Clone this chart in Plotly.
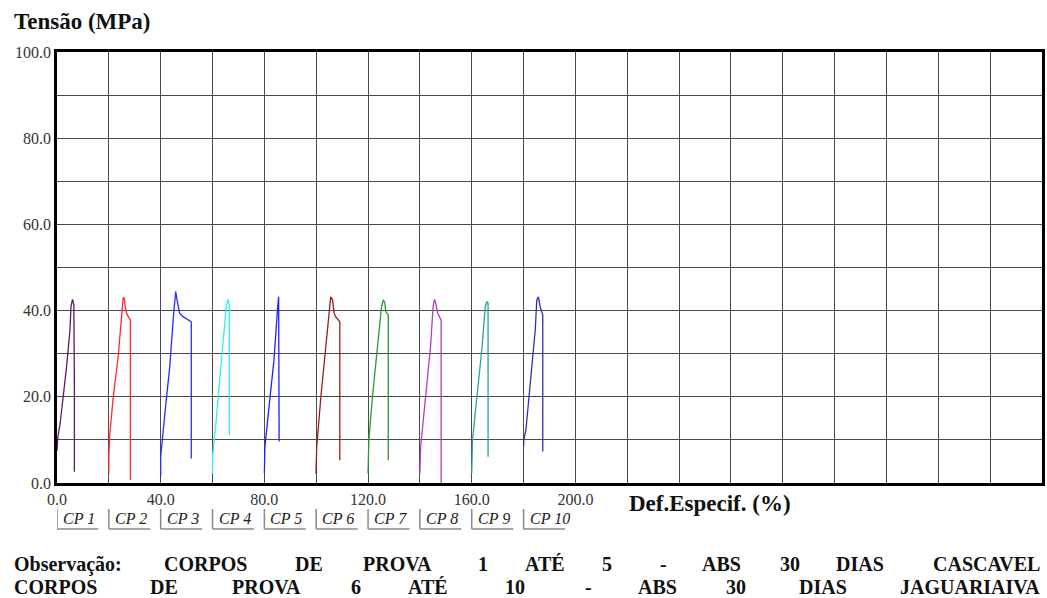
import plotly.graph_objects as go

# ---------------- data ----------------
series_names = ["CP 1", "CP 2", "CP 3", "CP 4", "CP 5", "CP 6", "CP 7", "CP 8", "CP 9", "CP 10"]
series_colors = ["#5a1a66", "#ff2a2a", "#2a2aff", "#33f0f0", "#2020ff",
                 "#9b1b1b", "#2a9a2a", "#b23cc0", "#25a3a0", "#3232a2"]

cp1_x = [0.0, 0.3, 1.2, 2.4, 3.7, 5.0, 5.4, 6.0, 6.5, 6.7, 6.7]
cp1_y = [7.5, 10.5, 13.8, 20.0, 27.0, 35.5, 41.0, 42.6, 41.3, 23.9, 2.6]
cp2_x = [20.0, 20.0, 20.4, 21.7, 23.6, 24.9, 25.5, 25.9, 26.5, 27.1, 28.3, 28.3]
cp2_y = [2.2, 6.5, 11.5, 20.0, 29.3, 38.6, 42.8, 43.1, 40.1, 39.0, 37.8, 0.7]
cp3_x = [40.0, 40.0, 41.5, 43.5, 45.0, 45.8, 46.3, 47.3, 48.6, 50.5, 51.8, 51.8]
cp3_y = [1.5, 6.1, 15.4, 27.0, 39.4, 44.4, 42.5, 39.4, 38.6, 38.0, 37.4, 5.7]
cp4_x = [60.0, 60.0, 61.4, 63.3, 65.3, 66.0, 66.5, 66.5]
cp4_y = [2.2, 6.0, 14.6, 27.8, 40.9, 42.6, 40.9, 11.1]
cp5_x = [80.0, 80.2, 81.8, 83.7, 85.0, 85.5, 85.7]
cp5_y = [2.2, 8.4, 17.7, 28.5, 39.8, 43.2, 9.6]
cp6_x = [99.9, 100.2, 101.8, 103.7, 105.0, 105.6, 106.3, 106.9, 107.5, 109.1, 109.1]
cp6_y = [2.2, 8.4, 20.0, 31.6, 39.4, 43.2, 42.5, 39.4, 38.6, 37.4, 5.3]
cp7_x = [120.0, 120.3, 121.7, 123.6, 125.2, 125.9, 126.5, 126.8, 127.8, 127.8]
cp7_y = [2.2, 10.0, 20.0, 31.6, 40.9, 42.5, 41.7, 39.8, 39.0, 5.3]
cp8_x = [140.0, 140.3, 142.2, 144.1, 145.1, 145.6, 146.0, 146.9, 148.2, 148.2]
cp8_y = [2.2, 8.4, 20.0, 31.6, 40.9, 42.6, 42.0, 39.4, 37.8, 0.0]
cp9_x = [160.0, 160.3, 162.0, 164.0, 165.2, 165.9, 166.3, 166.3]
cp9_y = [2.2, 10.0, 20.0, 31.6, 40.9, 42.1, 41.7, 6.1]
cp10_x = [180.0, 180.1, 180.9, 182.6, 184.5, 185.1, 185.7, 186.4, 187.4, 187.4]
cp10_y = [8.4, 10.0, 12.3, 23.9, 35.5, 42.5, 43.2, 40.9, 39.0, 7.3]

legend_x = [0, 20, 40, 60, 80, 100, 120, 140, 160, 180]

x_tick_values = [0, 20, 40, 60, 80, 100, 120, 140, 160, 180, 200, 220, 240, 260, 280, 300, 320, 340, 360, 380]
x_tick_labels = ["0.0", "", "40.0", "", "80.0", "", "120.0", "", "160.0", "", "200.0",
                 "", "", "", "", "", "", "", "", ""]
y_tick_values = [0, 10, 20, 30, 40, 50, 60, 70, 80, 90, 100]
y_tick_labels = ["0.0", "", "20.0", "", "40.0", "", "60.0", "", "80.0", "", "100.0"]

obs_line1 = ["Observação:", "CORPOS", "DE", "PROVA", "1", "ATÉ", "5", "-", "ABS", "30", "DIAS", "CASCAVEL"]
obs_line2 = ["CORPOS", "DE", "PROVA", "6", "ATÉ", "10", "-", "ABS", "30", "DIAS", "JAGUARIAIVA"]

# ---------------- layout helpers ----------------
W, H = 1047, 598
PL, PR, PT, PB = 57, 1045, 52, 483
def px(x):
    return (x - PL) / (PR - PL)
def py(y):
    return (PB - y) / (PB - PT)

obs_line1_left = [12, 162, 294, 362, 477, 524, 602, 660, 702, 780, 836, None]
obs_line2_left = [12, 148, 231, 350, 407, 504, 585, 638, 726, 799, None]

SERIF = "Liberation Serif"

fig = go.Figure()
all_x = [cp1_x, cp2_x, cp3_x, cp4_x, cp5_x, cp6_x, cp7_x, cp8_x, cp9_x, cp10_x]
all_y = [cp1_y, cp2_y, cp3_y, cp4_y, cp5_y, cp6_y, cp7_y, cp8_y, cp9_y, cp10_y]
for name, col, xs, ys in zip(series_names, series_colors, all_x, all_y):
    fig.add_trace(go.Scatter(x=xs, y=ys, mode="lines", name=name,
                             line=dict(color=col, width=1.3), showlegend=False,
                             cliponaxis=True))

annotations = []
shapes = []
# custom legend
for name, lx in zip(series_names, legend_x):
    annotations.append(dict(x=lx, y=py(518), xref="x", yref="paper", text=name,
                            showarrow=False, xanchor="left", yanchor="middle", xshift=4,
                            font=dict(family=SERIF, size=16, color="#222222", style="italic")))
    shapes.append(dict(type="line", xref="x", yref="paper", x0=lx, x1=lx,
                       y0=py(509), y1=py(529), line=dict(color="#8a8a8a", width=1.5)))
    shapes.append(dict(type="line", xref="x", yref="paper", x0=lx, x1=lx + 16,
                       y0=py(529), y1=py(529), line=dict(color="#8a8a8a", width=1.5)))

# titles
annotations.append(dict(x=px(12), y=py(22), xref="paper", yref="paper", text="<b>Tensão (MPa)</b>",
                        showarrow=False, xanchor="left", yanchor="middle",
                        font=dict(family=SERIF, size=23, color="#111111")))
annotations.append(dict(x=px(629), y=py(503), xref="paper", yref="paper", text="<b>Def.Especif. (%)</b>",
                        showarrow=False, xanchor="left", yanchor="middle",
                        font=dict(family=SERIF, size=23, color="#111111")))

# observation text (justified)
for words, lefts, yc in ((obs_line1, obs_line1_left, 564), (obs_line2, obs_line2_left, 587)):
    for w, lx in zip(words, lefts):
        if lx is None:
            annotations.append(dict(x=px(1045), y=py(yc), xref="paper", yref="paper",
                                    text="<b>" + w + "</b>", showarrow=False,
                                    xanchor="right", yanchor="middle",
                                    font=dict(family=SERIF, size=20, color="#111111")))
        else:
            annotations.append(dict(x=px(lx), y=py(yc), xref="paper", yref="paper",
                                    text="<b>" + w + "</b>", showarrow=False,
                                    xanchor="left", yanchor="middle",
                                    font=dict(family=SERIF, size=20, color="#111111")))

fig.update_layout(
    width=W, height=H,
    margin=dict(l=PL, r=W - PR, t=PT, b=H - PB, pad=0),
    paper_bgcolor="white", plot_bgcolor="white",
    font=dict(family=SERIF),
    annotations=annotations, shapes=shapes,
    xaxis=dict(range=[0, 380], tickmode="array", tickvals=x_tick_values, ticktext=x_tick_labels,
               showgrid=True, gridcolor="#4a4a4a", gridwidth=1, zeroline=False,
               showline=True, linecolor="black", linewidth=2.5, mirror=True,
               ticks="", tickfont=dict(family=SERIF, size=16, color="#333333")),
    yaxis=dict(range=[0, 100], tickmode="array", tickvals=y_tick_values, ticktext=y_tick_labels,
               showgrid=True, gridcolor="#4a4a4a", gridwidth=1, zeroline=False,
               showline=True, linecolor="black", linewidth=2.5, mirror=True,
               ticks="", tickfont=dict(family=SERIF, size=16, color="#333333")),
)

fig.write_html("out.html")
